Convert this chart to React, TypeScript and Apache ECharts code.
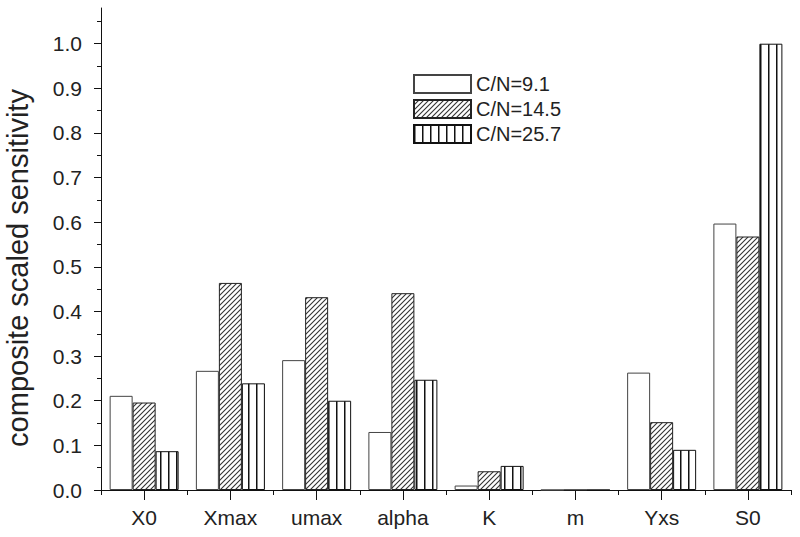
import React, { useEffect, useRef } from "react";
import * as echarts from "echarts";

const categories = ["X0", "Xmax", "umax", "alpha", "K", "m", "Yxs", "S0"];
const seriesNames = ["C/N=9.1", "C/N=14.5", "C/N=25.7"];
const cn91 = [0.211, 0.267, 0.291, 0.13, 0.01, 0, 0.263, 0.597];
const cn145 = [0.196, 0.464, 0.432, 0.441, 0.042, 0, 0.152, 0.568];
const cn257 = [0.087, 0.239, 0.2, 0.247, 0.054, 0, 0.09, 1.0];
const yTickValues = [0, 0.1, 0.2, 0.3, 0.4, 0.5, 0.6, 0.7, 0.8, 0.9, 1.0];
const yMinorValues = [0.05, 0.15, 0.25, 0.35, 0.45, 0.55, 0.65, 0.75, 0.85, 0.95, 1.05];

function makeHatch(): HTMLCanvasElement {
  const c = document.createElement("canvas");
  c.width = 5;
  c.height = 5;
  const ctx = c.getContext("2d")!;
  ctx.fillStyle = "#ffffff";
  ctx.fillRect(0, 0, 5, 5);
  ctx.strokeStyle = "#333333";
  ctx.lineWidth = 1.1;
  ctx.beginPath();
  ctx.moveTo(-1, 6);
  ctx.lineTo(6, -1);
  ctx.moveTo(-1, 1);
  ctx.lineTo(1, -1);
  ctx.moveTo(4, 6);
  ctx.lineTo(6, 4);
  ctx.stroke();
  return c;
}

function makeStripes(): HTMLCanvasElement {
  const c = document.createElement("canvas");
  c.width = 8;
  c.height = 4;
  const ctx = c.getContext("2d")!;
  ctx.fillStyle = "#ffffff";
  ctx.fillRect(0, 0, 8, 4);
  ctx.fillStyle = "#111111";
  ctx.fillRect(0, 0, 1.5, 4);
  return c;
}

export default function App() {
  const ref = useRef<HTMLDivElement>(null);
  useEffect(() => {
    if (!ref.current) return;
    const chart = echarts.init(ref.current, undefined, { renderer: "svg" });
    const hatch = makeHatch();
    const stripes = makeStripes();
    const font = "'Liberation Sans', Arial, sans-serif";
    const mkSeries = (name: string, data: number[], color: any, border: string) => ({
      name,
      type: "bar",
      xAxisIndex: 0,
      yAxisIndex: 0,
      data,
      barWidth: 23,
      barGap: "0%",
      itemStyle: { color, borderColor: border, borderWidth: 1 },
    });
    chart.setOption({
      animation: false,
      backgroundColor: "#ffffff",
      grid: { left: 101, right: 9, top: 8, bottom: 47, containLabel: false, outerBoundsMode: "none" },
      legend: {
        data: seriesNames,
        orient: "vertical",
        left: 413,
        top: 74,
        itemWidth: 57,
        itemHeight: 18,
        itemGap: 5,
        padding: 0,
        icon: "rect",
        textStyle: { fontSize: 20, color: "#222", fontFamily: font },
      },
      xAxis: [
        {
          type: "category",
          data: categories,
          axisLine: { show: true, lineStyle: { color: "#111", width: 1 } },
          axisTick: { show: true, alignWithLabel: true, length: 10, lineStyle: { color: "#111" } },
          axisLabel: { margin: 17, fontSize: 21, color: "#222", fontFamily: font },
          splitLine: { show: false },
        },
        {
          type: "category",
          data: categories,
          position: "bottom",
          axisLine: { show: false },
          axisTick: { show: true, length: 5, lineStyle: { color: "#111" } },
          axisLabel: { show: false },
          splitLine: { show: false },
        },
      ],
      yAxis: [
        {
          type: "value",
          min: 0,
          max: 1.08,
          interval: 0.1,
          name: "composite scaled sensitivity",
          nameLocation: "middle",
          nameGap: 69,
          nameTextStyle: { fontSize: 29, color: "#222", fontFamily: font, padding: [0, 38, 0, 0] },
          axisLine: { show: true, lineStyle: { color: "#111", width: 1 } },
          axisTick: { show: true, length: 7, customValues: yTickValues, lineStyle: { color: "#111" } },
          axisLabel: {
            customValues: yTickValues,
            margin: 19,
            fontSize: 21,
            color: "#222",
            fontFamily: font,
            formatter: (v: number) => v.toFixed(1),
          },
          splitLine: { show: false },
        },
        {
          type: "value",
          min: 0,
          max: 1.08,
          interval: 0.1,
          position: "left",
          axisLine: { show: false },
          axisTick: { show: true, length: 4, customValues: yMinorValues, lineStyle: { color: "#111" } },
          axisLabel: { show: false },
          splitLine: { show: false },
        },
      ],
      series: [
        mkSeries(seriesNames[0], cn91, "#ffffff", "#444"),
        mkSeries(
          seriesNames[1],
          cn145,
          { image: hatch, repeat: "repeat", imageWidth: 5, imageHeight: 5 },
          "#222"
        ),
        mkSeries(
          seriesNames[2],
          cn257,
          { image: stripes, repeat: "repeat", imageWidth: 8, imageHeight: 4 },
          "#111"
        ),
      ],
    });
    return () => chart.dispose();
  }, []);
  return <div ref={ref} style={{ width: 800, height: 537, position: "absolute", left: 0, top: 0 }} />;
}
